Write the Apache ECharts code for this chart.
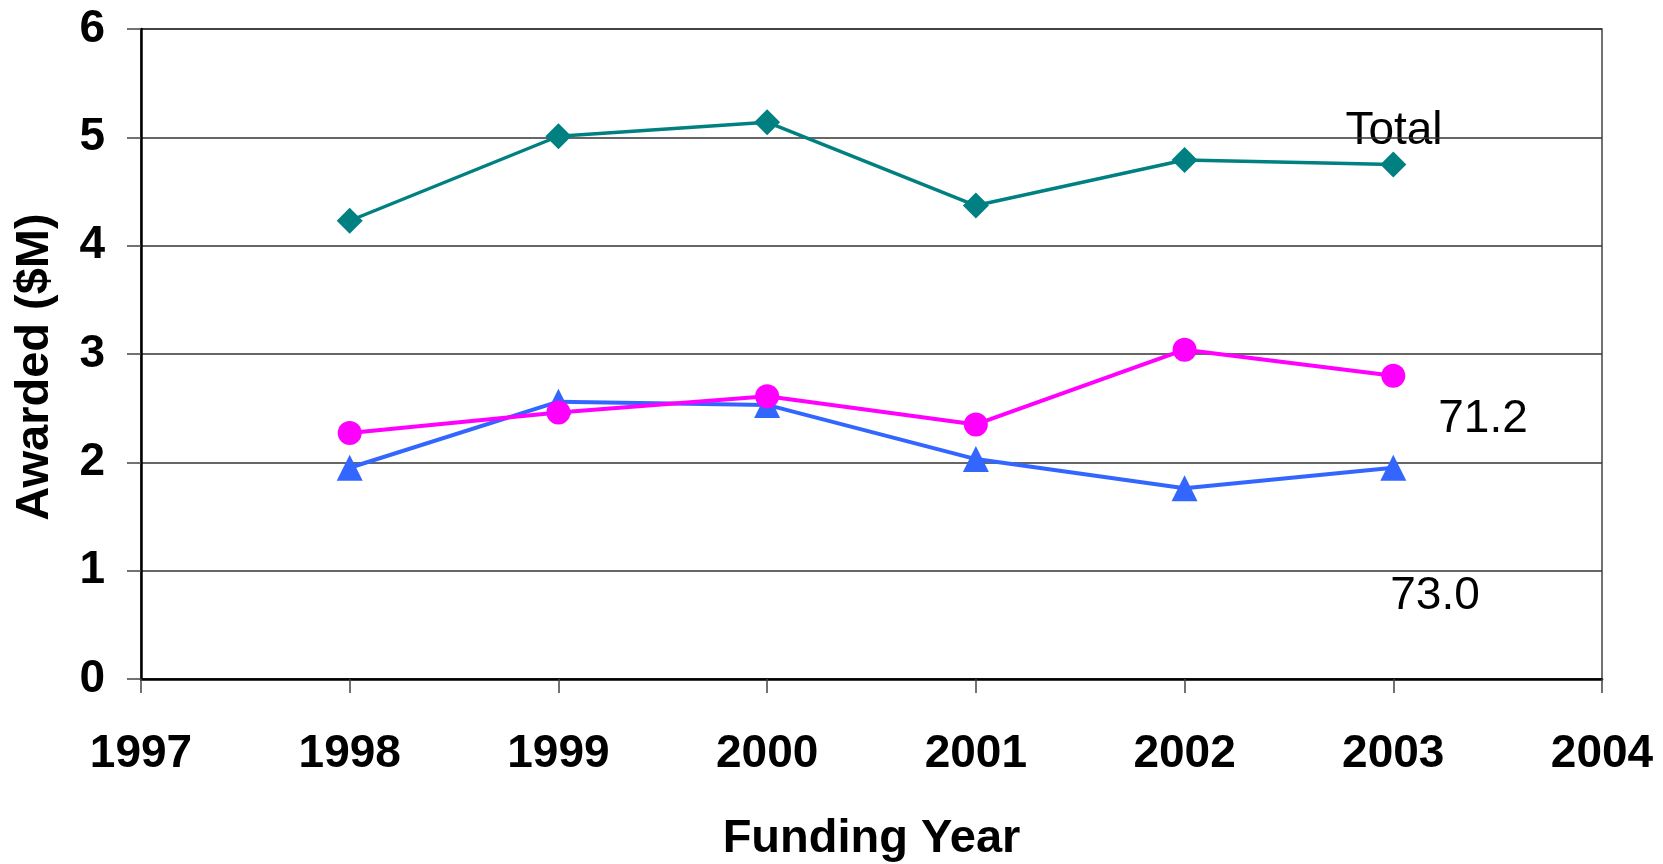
<!DOCTYPE html>
<html>
<head>
<meta charset="utf-8">
<script src="https://cdn.jsdelivr.net/npm/echarts@6/dist/echarts.min.js"></script>
<style>
html,body{margin:0;padding:0;background:#fff;overflow:hidden;}
#chart{width:1663px;height:864px;}
</style>
</head>
<body>
<div id="chart"></div>
<script>
// Data
const years = [1998, 1999, 2000, 2001, 2002, 2003];
const totalValues = [4.23, 5.01, 5.14, 4.37, 4.79, 4.75];
const pinkValues = [2.27, 2.46, 2.61, 2.35, 3.04, 2.80];
const blueValues = [1.95, 2.56, 2.53, 2.03, 1.76, 1.95];
const annotations = ['Total', '71.2', '73.0'];
const xTitle = 'Funding Year';
const yTitle = 'Awarded ($M)';

const FONT = '"Liberation Sans", Arial, Helvetica, sans-serif';
const pairs = (vals) => years.map((y, i) => [y, vals[i]]);

const chart = echarts.init(document.getElementById('chart'), null, {renderer: 'canvas'});
chart.setOption({
  animation: false,
  backgroundColor: '#ffffff',
  grid: {
    left: 141, right: 61, top: 29, bottom: 185,
    containLabel: false, outerBoundsMode: 'none',
    show: true, borderColor: '#444', borderWidth: 1.5, backgroundColor: 'transparent'
  },
  xAxis: {
    type: 'value', min: 1997, max: 2004, interval: 1,
    name: xTitle, nameLocation: 'middle', nameGap: 137,
    nameTextStyle: {fontFamily: FONT, fontSize: 47, fontWeight: 'bold', color: '#000', lineHeight: 47},
    axisLine: {show: true, onZero: false, lineStyle: {color: '#000', width: 2.5}},
    axisTick: {show: true, inside: false, length: 14, lineStyle: {color: '#444', width: 1.5}},
    axisLabel: {fontFamily: FONT, fontSize: 46, fontWeight: 'bold', color: '#000', margin: 52,
      formatter: (v) => String(v)},
    splitLine: {show: false}
  },
  yAxis: {
    type: 'value', min: 0, max: 6, interval: 1,
    name: yTitle, nameLocation: 'middle', nameGap: 82, nameRotate: 90,
    nameTextStyle: {fontFamily: FONT, fontSize: 47, fontWeight: 'bold', color: '#000', padding: [0, 26, 0, 0]},
    axisLine: {show: true, lineStyle: {color: '#000', width: 2.5}},
    axisTick: {show: true, inside: false, length: 14, lineStyle: {color: '#444', width: 1.5}},
    axisLabel: {fontFamily: FONT, fontSize: 46, fontWeight: 'bold', color: '#000', margin: 36},
    splitLine: {show: true, lineStyle: {color: '#333', width: 1.5}}
  },
  series: [
    {
      name: 'Total', type: 'line', data: pairs(totalValues),
      symbol: 'diamond', symbolSize: 26,
      lineStyle: {color: '#008080', width: 3.5},
      itemStyle: {color: '#008080'}
    },
    {
      name: 'Blue', type: 'line', data: pairs(blueValues),
      symbol: 'triangle', symbolSize: 26,
      lineStyle: {color: '#3366FF', width: 4},
      itemStyle: {color: '#3366FF'}
    },
    {
      name: 'Pink', type: 'line', data: pairs(pinkValues),
      symbol: 'circle', symbolSize: 24,
      lineStyle: {color: '#FF00FF', width: 4},
      itemStyle: {color: '#FF00FF'}
    }
  ],
  graphic: [
    {type: 'text', x: 1394, y: 131, style: {text: annotations[0], font: '46px ' + FONT, fill: '#000', align: 'center', verticalAlign: 'middle'}},
    {type: 'text', x: 1483, y: 419, style: {text: annotations[1], font: '46px ' + FONT, fill: '#000', align: 'center', verticalAlign: 'middle'}},
    {type: 'text', x: 1435, y: 596, style: {text: annotations[2], font: '46px ' + FONT, fill: '#000', align: 'center', verticalAlign: 'middle'}}
  ]
});
</script>
</body>
</html>
